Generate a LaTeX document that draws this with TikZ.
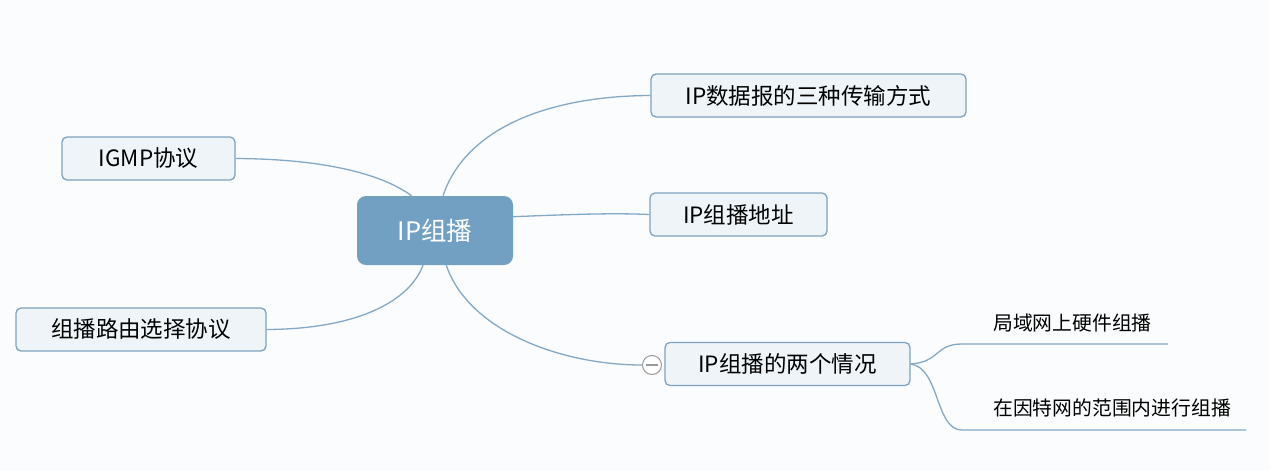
\documentclass[tikz,border=0pt]{standalone}
\usepackage{fontspec}
\setmainfont{Noto Sans CJK SC}
\usepackage{xcolor}
\usetikzlibrary{calc}
\definecolor{rootfill}{HTML}{72A0C2}
\definecolor{topicfill}{HTML}{EEF4F8}
\definecolor{topicline}{HTML}{7EA2BF}
\definecolor{linkcol}{HTML}{84A9C6}
\definecolor{bgcol}{HTML}{FBFCFD}

\begin{document}
\begin{tikzpicture}[x=1pt,y=-1pt,line join=round,
    rootbox/.style={rectangle,rounded corners=9pt,fill=rootfill,text=white,
      minimum width=156pt,minimum height=69pt,inner sep=0pt,font=\fontsize{25.5}{30}\selectfont},
    topicbox/.style={rectangle,rounded corners=5pt,fill=topicfill,draw=topicline,line width=1.3pt,
      minimum height=43pt,inner sep=0pt,font=\fontsize{22.5}{27}\selectfont},
    subtext/.style={anchor=west,inner sep=0pt,font=\fontsize{19.8}{24}\selectfont},
    link/.style={draw=linkcol,line width=1.3pt}]
  \fill[bgcol] (0,0) rectangle (1270,471);
  \useasboundingbox (0,0) rectangle (1270,471);
  % central topic and main topics
  \node[rootbox] (ipm) at (435,230.5) {IP组播};
  \node[topicbox,minimum width=315pt] (modes) at (808.5,95.5) {IP数据报的三种传输方式};
  \node[topicbox,minimum width=177pt] (addr) at (738.5,214.5) {IP组播地址};
  \node[topicbox,minimum width=245pt] (cases) at (787.5,364) {IP组播的两个情况};
  \node[topicbox,minimum width=173pt] (igmp) at (148.5,158.5) {IGMP协议};
  \node[topicbox,minimum width=250pt] (route) at (141,329.5) {组播路由选择协议};
  % collapse mark
  \node[circle,draw=gray!80,fill=white,line width=1pt,minimum size=19pt,inner sep=0pt] (fold) at (652,365) {};
  \draw[gray!80,line width=1.2pt] ($(fold.west)+(4,0)$) -- ($(fold.east)+(-4,0)$);
  % subtopics
  \coordinate (s1a) at (962,344);
  \coordinate (s1b) at (1168,344);
  \coordinate (s2a) at (962,430);
  \coordinate (s2b) at (1246,430);
  \node[subtext] (hw) at (993,323) {局域网上硬件组播};
  \node[subtext] (inet) at (993,408) {在因特网的范围内进行组播};
  % connectors
  \draw[link] (ipm.77) .. controls (465,130) and (545,96) .. (modes.west);
  \draw[link] (ipm.10) .. controls (580,214) and (615,213) .. (addr.west);
  \draw[link] (ipm.288) .. controls (468,330) and (560,365) .. (fold.west);
  \draw[link] (ipm.124) .. controls (385,176) and (330,159) .. (igmp.east);
  \draw[link] (ipm.251) .. controls (410,300) and (360,329) .. (route.east);
  \draw[link] (cases.east) .. controls (940,362) and (935,344) .. (s1a) -- (s1b);
  \draw[link] (cases.east) .. controls (940,368) and (935,430) .. (s2a) -- (s2b);
\end{tikzpicture}
\end{document}
